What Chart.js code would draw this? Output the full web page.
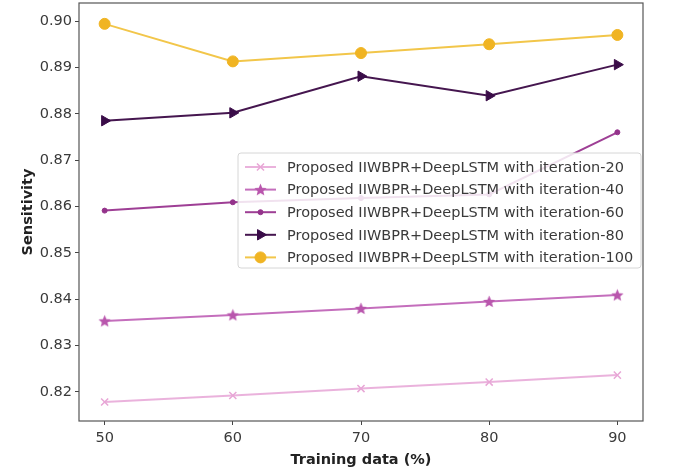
<!DOCTYPE html>
<html>
<head>
<meta charset="utf-8">
<script src="https://cdn.jsdelivr.net/npm/chart.js@4/dist/chart.umd.min.js"></script>
<style>
  html, body { margin: 0; padding: 0; background: #fff; }
  #wrap { width: 674px; height: 470px; }
</style>
</head>
<body>
<div id="wrap"><canvas id="myCanvas" width="674" height="470"></canvas></div>
<script>
// data
var trainingData = [50, 60, 70, 80, 90];
var iter20  = [0.8178, 0.8192, 0.8207, 0.8221, 0.8236];
var iter40  = [0.8353, 0.8366, 0.8380, 0.8395, 0.8409];
var iter60  = [0.8591, 0.8609, 0.8618, 0.8626, 0.8760];
var iter80  = [0.8785, 0.8802, 0.8881, 0.8839, 0.8906];
var iter100 = [0.8994, 0.8913, 0.8931, 0.8950, 0.8970];
var seriesNames = [
  'Proposed IIWBPR+DeepLSTM with iteration-20',
  'Proposed IIWBPR+DeepLSTM with iteration-40',
  'Proposed IIWBPR+DeepLSTM with iteration-60',
  'Proposed IIWBPR+DeepLSTM with iteration-80',
  'Proposed IIWBPR+DeepLSTM with iteration-100'
];
var xTicks = [50, 60, 70, 80, 90];
var yTicks = [0.82, 0.83, 0.84, 0.85, 0.86, 0.87, 0.88, 0.89, 0.90];

var FONT = "'DejaVu Sans', sans-serif";
var TEXT = '#3a3a3a';

function pts(ys) {
  return ys.map(function (v, i) { return { x: trainingData[i], y: v }; });
}

// filled 5 point star, matplotlib's '*' marker
function makeStar(color, r) {
  var c = document.createElement('canvas');
  var size = Math.ceil(r * 2 + 2);
  c.width = size; c.height = size;
  var g = c.getContext('2d');
  var cx = size / 2, cy = size / 2 + 0.5;
  g.beginPath();
  for (var k = 0; k < 10; k++) {
    var rr = (k % 2 === 0) ? r : r * 0.45;
    var ang = -Math.PI / 2 + k * Math.PI / 5;
    var px = cx + rr * Math.cos(ang), py = cy + rr * Math.sin(ang);
    if (k === 0) g.moveTo(px, py); else g.lineTo(px, py);
  }
  g.closePath();
  g.fillStyle = color;
  g.fill();
  return c;
}

// look of each line (colour, marker)
var styles = [
  { line: 'rgba(232,170,216,0.9)', mark: '#e8a6d6', point: 'crossRot', radius: 5, rot: 0, bw: 1.5 },
  { line: '#c46ebc', mark: '#b956ad', point: makeStar('#b956ad', 6.5), radius: 6, rot: 0, bw: 1 },
  { line: '#9e3f95', mark: '#94338b', point: 'circle', radius: 2.5, rot: 0, bw: 1 },
  { line: '#45164f', mark: '#3a0c48', point: 'triangle', radius: 6, rot: 90, bw: 1 },
  { line: '#f2c64a', mark: '#f0b423', point: 'circle', radius: 5.5, rot: 0, bw: 1 }
];
var allSeries = [iter20, iter40, iter60, iter80, iter100];

var datasets = allSeries.map(function (s, i) {
  var st = styles[i];
  return {
    label: seriesNames[i],
    data: pts(s),
    borderColor: st.line,
    backgroundColor: st.mark,
    pointBackgroundColor: st.mark,
    pointBorderColor: st.mark,
    pointStyle: st.point,
    pointRadius: st.radius,
    pointRotation: st.rot,
    pointBorderWidth: st.bw,
    borderWidth: 2,
    tension: 0
  };
});

// the four spines round the plot
var frame = {
  id: 'frame',
  afterDraw: function (chart) {
    var a = chart.chartArea, ctx = chart.ctx;
    ctx.save();
    ctx.strokeStyle = '#555';
    ctx.lineWidth = 1.2;
    ctx.strokeRect(a.left, a.top, a.right - a.left, a.bottom - a.top);
    ctx.restore();
  }
};

// legend box sitting inside the plot, like matplotlib's
var innerLegend = {
  id: 'innerLegend',
  afterDatasetsDraw: function (chart) {
    var ctx = chart.ctx;
    var bx = 238, by = 153, bw = 403, bh = 115;
    ctx.save();
    ctx.globalAlpha = 0.85;
    ctx.fillStyle = '#fff';
    ctx.beginPath();
    ctx.roundRect(bx, by, bw, bh, 3);
    ctx.fill();
    ctx.globalAlpha = 1;
    ctx.strokeStyle = '#d6d6d6';
    ctx.lineWidth = 1;
    ctx.stroke();
    ctx.font = '14.5px ' + FONT;
    ctx.textBaseline = 'middle';
    for (var i = 0; i < seriesNames.length; i++) {
      var st = styles[i];
      var y = 167 + i * 22.6;
      ctx.strokeStyle = st.line;
      ctx.lineWidth = 2;
      ctx.beginPath();
      ctx.moveTo(245, y);
      ctx.lineTo(276, y);
      ctx.stroke();
      ctx.fillStyle = st.mark;
      ctx.strokeStyle = st.mark;
      ctx.lineWidth = st.bw;
      Chart.helpers.drawPoint(ctx, { pointStyle: st.point, rotation: st.rot, radius: st.radius, borderWidth: st.bw }, 260.5, y);
      ctx.fillStyle = TEXT;
      ctx.fillText(seriesNames[i], 287, y + 1);
    }
    ctx.restore();
  }
};

var ctx = document.getElementById('myCanvas').getContext('2d');
var myChart = new Chart(ctx, {
  type: 'line',
  data: { datasets: datasets },
  options: {
    responsive: false,
    animation: false,
    layout: { autoPadding: false, padding: { top: 3, right: 31, left: 0, bottom: 0 } },
    plugins: {
      legend: { display: false },
      tooltip: { enabled: false }
    },
    scales: {
      x: {
        type: 'linear',
        min: 48,
        max: 92,
        afterBuildTicks: function (s) { s.ticks = xTicks.map(function (v) { return { value: v }; }); },
        afterFit: function (s) { s.height = 49; s.paddingLeft = 0; s.paddingRight = 0; },
        grid: { drawOnChartArea: false, drawTicks: true, tickLength: 4, color: '#444' },
        border: { display: false },
        ticks: { color: TEXT, font: { family: FONT, size: 14.5 }, padding: 5, maxRotation: 0 },
        title: { display: true, text: 'Training data (%)', color: '#222', font: { family: FONT, size: 14.5, weight: 'bold' }, padding: { top: 0, bottom: 1 } }
      },
      y: {
        type: 'linear',
        min: 0.8137,
        max: 0.9039,
        afterBuildTicks: function (s) { s.ticks = yTicks.map(function (v) { return { value: v }; }); },
        afterFit: function (s) { s.width = 79; s.paddingTop = 0; s.paddingBottom = 0; },
        grid: { drawOnChartArea: false, drawTicks: true, tickLength: 4, color: '#444' },
        border: { display: false },
        ticks: {
          color: TEXT, font: { family: FONT, size: 14.5 }, padding: 3,
          callback: function (v) { return v.toFixed(2); }
        },
        title: { display: true, text: 'Sensitivity', color: '#222', font: { family: FONT, size: 14.5, weight: 'bold' }, padding: { top: 20, bottom: 0 } }
      }
    }
  },
  plugins: [frame, innerLegend]
});
</script>
</body>
</html>
